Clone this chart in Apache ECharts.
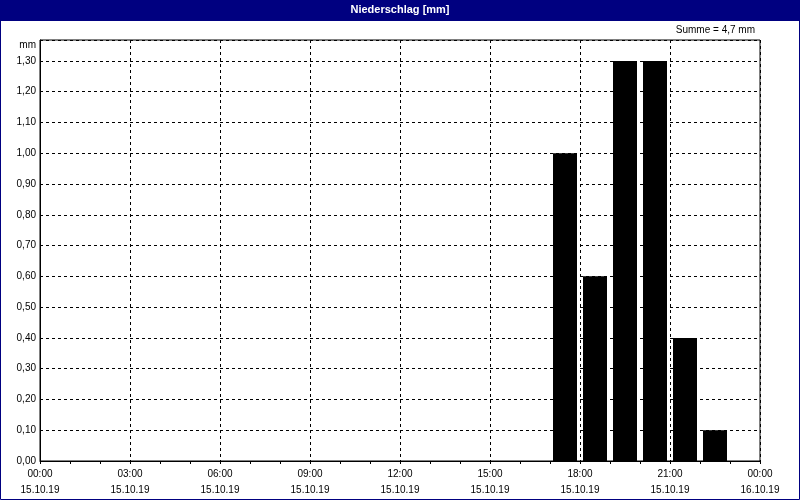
<!DOCTYPE html>
<html><head><meta charset="utf-8">
<script src="https://cdn.jsdelivr.net/npm/echarts@6/dist/echarts.min.js"></script>
<style>
html,body{margin:0;padding:0;background:#fff;}
#c{width:800px;height:500px;}
</style></head><body>
<div id="c"></div>
<script>
// Data
const title = 'Niederschlag [mm]';
const sumLabel = 'Summe = 4,7 mm';
const unitLabel = 'mm';
const hourStarts = [17, 18, 19, 20, 21, 22];      // bar start hour on 15.10.19
const precip = [1.0, 0.6, 1.3, 1.3, 0.4, 0.1];    // mm per hour
const xTickHours = [0, 3, 6, 9, 12, 15, 18, 21, 24];
const xDates = ['15.10.19', '16.10.19'];

const chart = echarts.init(document.getElementById('c'), null, {renderer: 'canvas'});
const font = 'Liberation Sans';
const seriesData = hourStarts.map((h, i) => [h + 0.5, precip[i]]);

chart.setOption({
  animation: false,
  backgroundColor: '#fff',
  textStyle: {fontFamily: font},
  grid: {left: 40, right: 40, top: 40, bottom: 39, show: true, borderColor: '#000', borderWidth: 1, backgroundColor: 'transparent'},
  graphic: [
    {type: 'rect', shape: {x: 0, y: 0, width: 800, height: 21}, style: {fill: '#000080'}, z: 10},
    {type: 'rect', shape: {x: 0.5, y: 0.5, width: 799, height: 499}, style: {fill: 'none', stroke: '#000080', lineWidth: 1}, z: 10},
    {type: 'text', left: 'center', top: 4, style: {text: title, fill: '#fff', font: 'bold 11px ' + font}, z: 11},
    {type: 'text', right: 45, top: 25, style: {text: sumLabel, fill: '#000', font: '10px ' + font}, z: 11},
    {type: 'text', right: 764, top: 40, style: {text: unitLabel, fill: '#000', font: '10px ' + font, align: 'right'}, z: 11}
  ],
  xAxis: {
    type: 'value', min: 0, max: 24, interval: 3,
    axisLine: {show: true, lineStyle: {color: '#000', width: 1}},
    axisTick: {show: true, length: 3, inside: false, lineStyle: {color: '#000'}},
    minorTick: {show: true, splitNumber: 3, length: 3, lineStyle: {color: '#000'}},
    splitLine: {show: true, lineStyle: {color: '#000', type: [3, 3], width: 1}},
    axisLabel: {
      margin: 5, color: '#000', fontSize: 10, fontFamily: font, lineHeight: 16,
      formatter: v => {
        const hh = String(v % 24).padStart(2, '0') + ':00';
        return hh + '\n' + (v < 24 ? xDates[0] : xDates[1]);
      }
    }
  },
  yAxis: {
    type: 'value', min: 0, max: 1.368, interval: 0.1,
    axisLine: {show: true, lineStyle: {color: '#000', width: 1}},
    axisTick: {show: false},
    splitLine: {show: true, lineStyle: {color: '#000', type: [3, 3], width: 1}},
    axisLabel: {
      margin: 4, color: '#000', fontSize: 10, fontFamily: font,
      formatter: v => {
        const r = Math.round(v * 10);
        if (Math.abs(v * 10 - r) > 1e-6 || r > 13) return '';
        return (r / 10).toFixed(2).replace('.', ',');
      }
    }
  },
  series: [{
    type: 'bar', data: seriesData, barWidth: 24,
    itemStyle: {color: '#000'}
  }]
});
</script>
</body></html>
